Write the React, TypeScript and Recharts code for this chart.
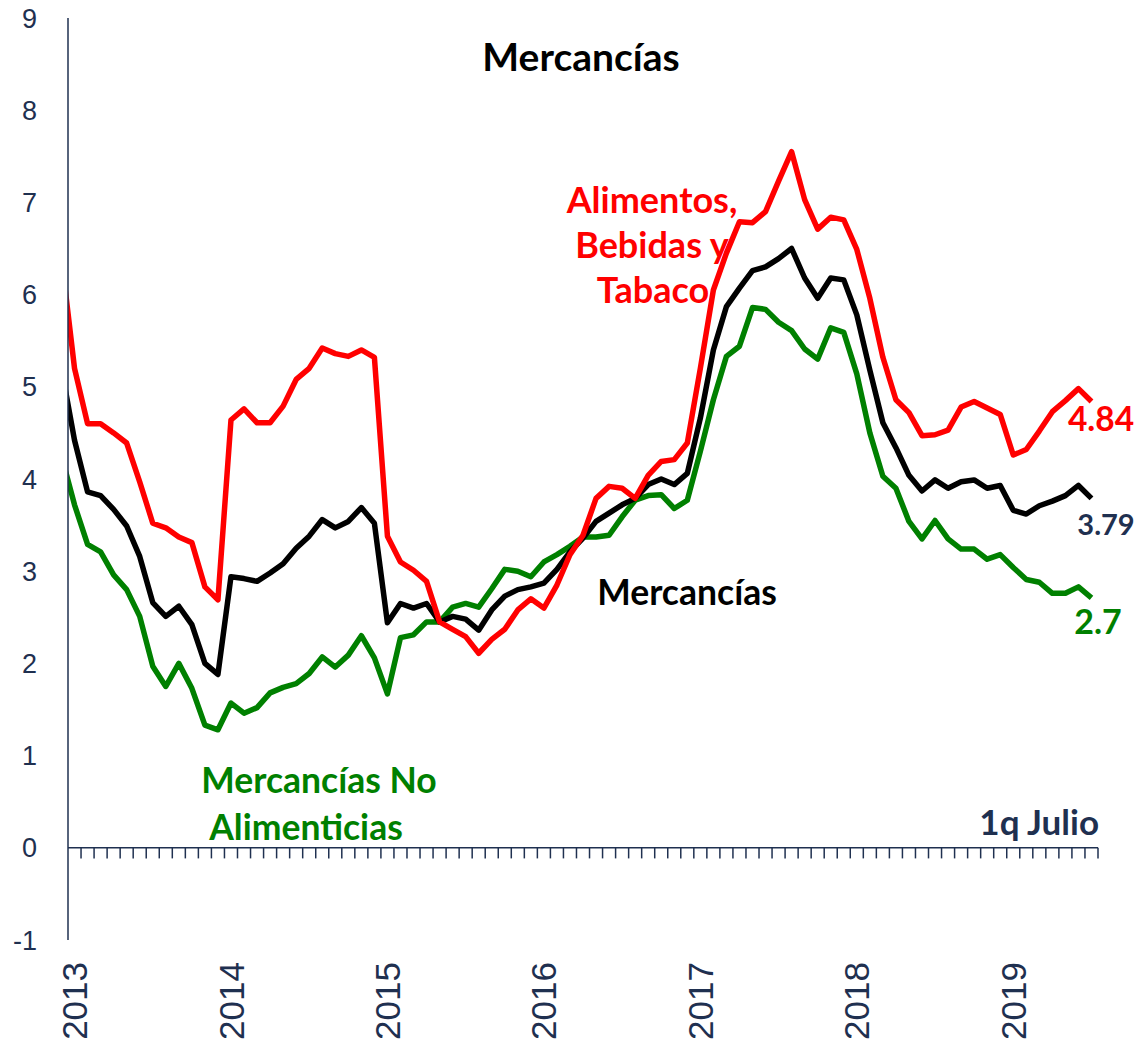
import { LineChart, Line, XAxis, YAxis, ReferenceLine } from "recharts";

// Inflación anual, % (dic 2012 - 1q jul 2019)
const meses = ["Ene", "Feb", "Mar", "Abr", "May", "Jun", "Jul", "Ago", "Sep", "Oct", "Nov", "Dic"];
const anios = ["2013", "2014", "2015", "2016", "2017", "2018", "2019"];

const alimentos = [
  6.4,
  5.2, 4.6, 4.6, 4.5, 4.39, 3.97, 3.52, 3.47, 3.37, 3.31, 2.83, 2.69,
  4.64, 4.76, 4.61, 4.61, 4.79, 5.08, 5.2, 5.42, 5.36, 5.33, 5.4, 5.32,
  3.38, 3.1, 3.01, 2.89, 2.45, 2.37, 2.29, 2.11, 2.26, 2.37, 2.58, 2.7,
  2.6, 2.85, 3.18, 3.39, 3.79, 3.92, 3.9, 3.79, 4.04, 4.19, 4.21, 4.39,
  5.2, 6.05, 6.45, 6.79, 6.78, 6.9, 7.23, 7.55, 7.03, 6.71, 6.84, 6.81,
  6.49, 5.96, 5.32, 4.86, 4.72, 4.47, 4.48, 4.53, 4.78, 4.84, 4.77, 4.7,
  4.26, 4.32, 4.52, 4.73, 4.85, 4.98, 4.84,
];

const mercancias = [
  5.2,
  4.42, 3.86, 3.82, 3.67, 3.49, 3.16, 2.66, 2.51, 2.62, 2.42, 2.0, 1.88,
  2.94, 2.92, 2.89, 2.98, 3.08, 3.25, 3.38, 3.56, 3.47, 3.54, 3.69, 3.52,
  2.44, 2.65, 2.6, 2.65, 2.45, 2.51, 2.48, 2.36, 2.58, 2.73, 2.8, 2.83,
  2.87, 3.02, 3.21, 3.36, 3.54, 3.63, 3.72, 3.79, 3.94, 4.0, 3.94, 4.06,
  4.66, 5.4, 5.87, 6.07, 6.26, 6.3, 6.39, 6.5, 6.18, 5.96, 6.18, 6.16,
  5.78, 5.18, 4.61, 4.34, 4.04, 3.87, 3.99, 3.9, 3.97, 3.99, 3.9, 3.93,
  3.66, 3.62, 3.71, 3.76, 3.82, 3.93, 3.79,
];

const noAlimenticias = [
  4.25,
  3.72, 3.29, 3.21, 2.96, 2.8, 2.51, 1.97, 1.75, 2.0, 1.73, 1.33, 1.28,
  1.57, 1.46, 1.52, 1.68, 1.74, 1.78, 1.89, 2.07, 1.96, 2.09, 2.3, 2.06,
  1.67, 2.28, 2.31, 2.45, 2.45, 2.61, 2.65, 2.61, 2.81, 3.02, 3.0, 2.94,
  3.1, 3.18, 3.27, 3.37, 3.37, 3.39, 3.59, 3.77, 3.82, 3.83, 3.68, 3.77,
  4.3, 4.86, 5.33, 5.44, 5.86, 5.84, 5.7, 5.61, 5.41, 5.3, 5.64, 5.59,
  5.14, 4.5, 4.03, 3.9, 3.54, 3.35, 3.55, 3.35, 3.24, 3.24, 3.13, 3.18,
  3.04, 2.91, 2.88, 2.76, 2.76, 2.83, 2.71,
];

const yTicks = [-1, 0, 1, 2, 3, 4, 5, 6, 7, 8, 9];

// periodos: dic 2012 y luego ene 2013 .. jul 2019 (1q)
const periodos: string[] = ["Dic 2012"];
anios.forEach((a) => meses.forEach((m) => periodos.push(`${m} ${a}`)));
periodos.length = alimentos.length;
periodos[periodos.length - 1] = "1q Jul 2019";

// cada mes ocupa un intervalo [i, i+1] del eje; el punto va al centro
const data = periodos.map((p, i) => ({
  periodo: p,
  pos: i - 0.5,
  alimentos: alimentos[i],
  mercancias: mercancias[i],
  noAlimenticias: noAlimenticias[i],
}));

const nMeses = periodos.length - 1;
const marcas = Array.from({ length: nMeses }, (_, k) => k + 1);
const yearPos = anios.map((_, k) => 12 * k + 0.5);

const NAVY = "#1F3050";
const RED = "#FF0000";
const GREEN = "#008000";
const LABEL_FONT = "Lato, 'Open Sans', sans-serif";
const AXIS_FONT = "'Liberation Sans', Arial, sans-serif";

function YearTick({ x, y, index }: any) {
  return (
    <text
      x={x}
      y={y}
      transform={`rotate(-90 ${x} ${y})`}
      textAnchor="end"
      dy="0.36em"
      fill={NAVY}
      fontSize={35}
      fontFamily={AXIS_FONT}
    >
      {anios[index]}
    </text>
  );
}

export default function App() {
  return (
    <div style={{ position: "absolute", left: 0, top: 0, width: 1137, height: 1044, background: "#fff" }}>
      <LineChart
        width={1137}
        height={1044}
        data={data}
        margin={{ top: 18, right: 39, bottom: 4, left: 0 }}
      >
        <XAxis
          dataKey="pos"
          type="number"
          domain={[0, nMeses]}
          allowDataOverflow
          ticks={yearPos}
          interval={0}
          axisLine={false}
          tickLine={false}
          tickSize={0}
          tickMargin={22}
          height={100}
          tick={<YearTick />}
        />
        <YAxis
          type="number"
          domain={[-1, 9]}
          ticks={yTicks}
          interval={0}
          width={68}
          axisLine={{ stroke: NAVY, strokeWidth: 1.5 }}
          tickLine={false}
          tickSize={0}
          tickMargin={31}
          tick={{ fill: NAVY, fontSize: 27, fontFamily: AXIS_FONT }}
        />

        {/* eje horizontal en cero con marcas mensuales */}
        <ReferenceLine y={0} stroke={NAVY} strokeWidth={1.5} />
        {marcas.map((k) => (
          <ReferenceLine
            key={k}
            segment={[{ x: k, y: 0 }, { x: k, y: -0.115 }]}
            stroke={NAVY}
            strokeWidth={1.5}
          />
        ))}

        <Line
          type="linear"
          dataKey="noAlimenticias"
          stroke={GREEN}
          strokeWidth={5.5}
          strokeLinejoin="round"
          dot={false}
          isAnimationActive={false}
        />
        <Line
          type="linear"
          dataKey="mercancias"
          stroke="#000000"
          strokeWidth={5.5}
          strokeLinejoin="round"
          dot={false}
          isAnimationActive={false}
        />
        <Line
          type="linear"
          dataKey="alimentos"
          stroke={RED}
          strokeWidth={5.5}
          strokeLinejoin="round"
          dot={false}
          isAnimationActive={false}
        />
      </LineChart>

      {/* rótulos */}
      <svg
        width={1137}
        height={1044}
        style={{ position: "absolute", left: 0, top: 0, pointerEvents: "none" }}
        fontFamily={LABEL_FONT}
        fontWeight={700}
      >
        <text x={581} y={71} textAnchor="middle" fontSize={39} fill="#000">Mercancías</text>
        <text x={652} y={213} textAnchor="middle" fontSize={36} fill={RED}>Alimentos,</text>
        <text x={652} y={258} textAnchor="middle" fontSize={36} fill={RED}>Bebidas y</text>
        <text x={653} y={303} textAnchor="middle" fontSize={36} fill={RED}>Tabaco</text>
        <text x={687} y={605} textAnchor="middle" fontSize={35.5} fill="#000">Mercancías</text>
        <text x={319} y={793} textAnchor="middle" fontSize={35.5} fill={GREEN}>Mercancías No</text>
        <text x={306} y={840} textAnchor="middle" fontSize={35.5} fill={GREEN}>Alimenticias</text>
        <text x={1101} y={431} textAnchor="middle" fontSize={33.5} fill={RED}>4.84</text>
        <text x={1106} y={535} textAnchor="middle" fontSize={29} fill={NAVY}>3.79</text>
        <text x={1098} y={634} textAnchor="middle" fontSize={34} fill={GREEN}>2.7</text>
        <text x={1099} y={835} textAnchor="end" fontSize={35} fill={NAVY}>1q Julio</text>
      </svg>
    </div>
  );
}
